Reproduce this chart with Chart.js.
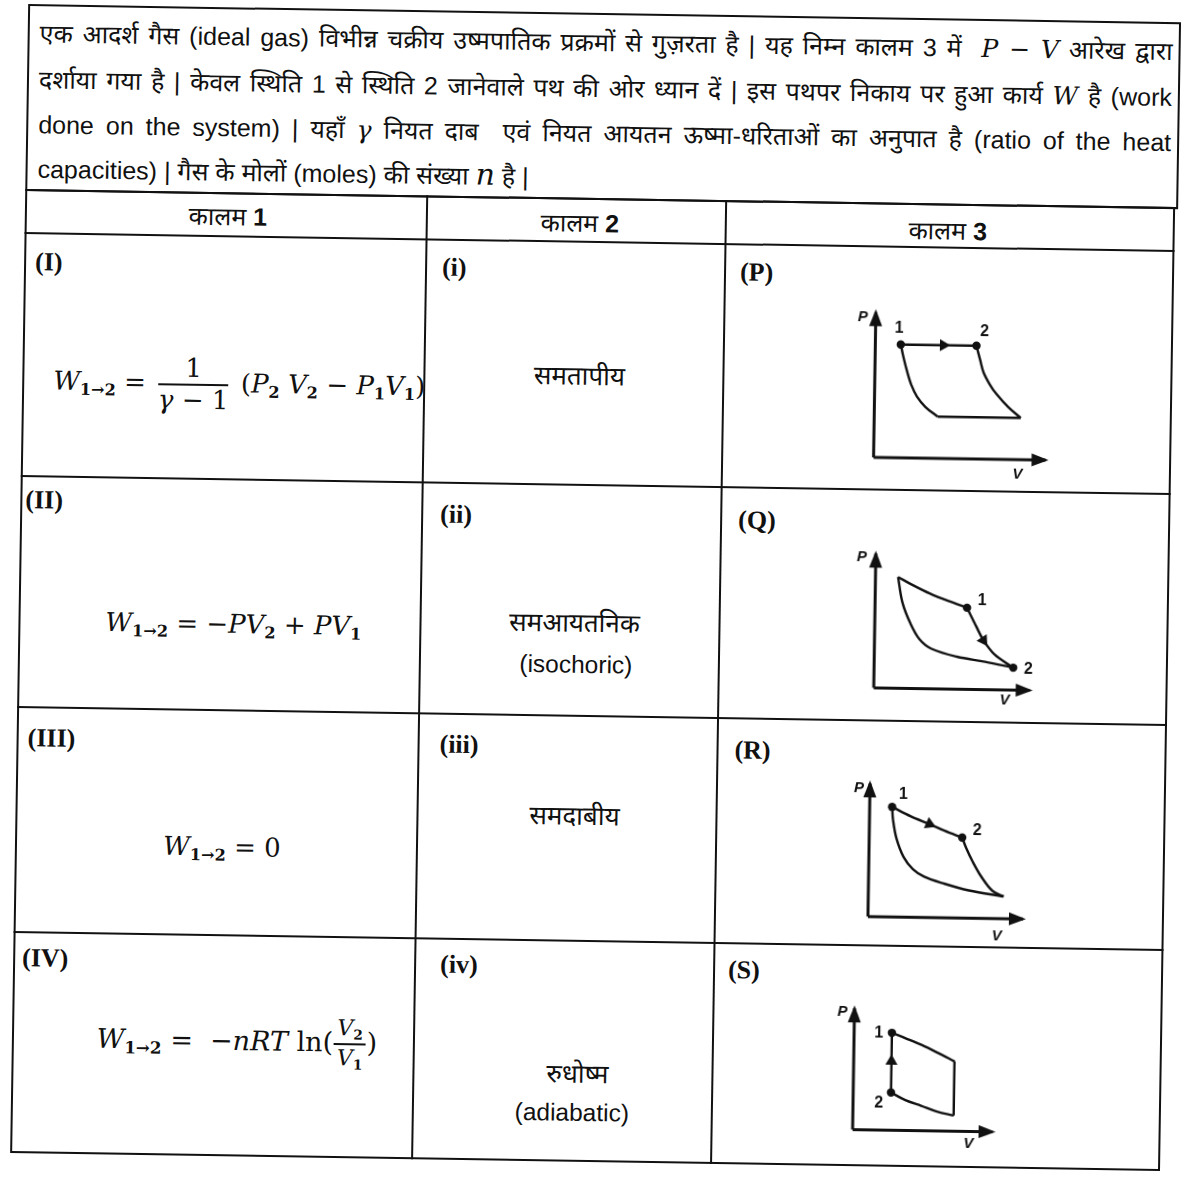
<!DOCTYPE html>
<html>
<head>
<meta charset="utf-8">
<title>P-V आरेख</title>
<script src="https://cdn.jsdelivr.net/npm/chart.js@4.4.1/dist/chart.umd.min.js"></script>
<style>
html, body { margin:0; padding:0; background:#fff; }
#page { position:absolute; left:0; top:0; width:1186px; height:1186px; transform:rotate(0.9deg); transform-origin:593px 593px; color:#111; font-family:"Liberation Sans", Arial, "Noto Sans", sans-serif; }
.box { position:absolute; border:2px solid #111; box-sizing:border-box; }
.h { position:absolute; height:2px; background:#111; }
.v { position:absolute; width:2px; background:#111; }
.t { position:absolute; white-space:nowrap; transform:translate(-50%,-50%); }
.l { position:absolute; white-space:nowrap; transform:translateY(-50%); }
.para div { position:absolute; left:31px; width:1133px; font-size:25px; transform:translateY(-50%); text-align:justify; text-align-last:justify; white-space:nowrap; }
.para div.last { text-align-last:left; }
.m { font-family:"DejaVu Serif", "Liberation Serif", serif; font-style:italic; font-size:25px; }
.rn { font-family:"Liberation Serif", serif; font-size:26px; font-weight:bold; }
.hd { font-size:25px; }
.c2 { font-size:26px; }
.en { font-size:24.5px; }
.f { font-family:"DejaVu Serif", "Liberation Serif", serif; font-size:26px; }
.f i { font-style:italic; }
.f sub { font-size:0.62em; font-weight:bold; font-style:normal; vertical-align:-0.3em; }
.frac { display:inline-block; vertical-align:middle; text-align:center; margin:0 4px; }
.frac > span { display:block; line-height:1.15; }
.frac > span:first-child { border-bottom:2px solid #111; padding:0 3px; }
.frac.sm { font-size:0.82em; margin:0 1px; }
canvas { position:absolute; }
</style>
</head>
<body>
<div id="page">
  <!-- top statement -->
  <div class="box" style="left:19px;top:13px;width:1153px;height:187px;"></div>
  <div class="para">
    <div style="top:41px">एक आदर्श गैस (ideal gas) विभीन्न चक्रीय उष्मपातिक प्रक्रमों से गुज़रता है | यह निम्न कालम 3 में &nbsp;<span class="m">P − V</span> आरेख द्वारा</div>
    <div style="top:87px">दर्शाया गया है | केवल स्थिति 1 से स्थिति 2 जानेवाले पथ की ओर ध्यान दें | इस पथपर निकाय पर हुआ कार्य <span class="m">W</span> है (work</div>
    <div style="top:132px">done on the system) | यहाँ <span class="m">γ</span> नियत दाब &nbsp;एवं नियत आयतन ऊष्मा-धरिताओं का अनुपात है (ratio of the heat</div>
    <div class="last" style="top:176px">capacities) | गैस के मोलों (moles) की संख्या <span class="m" style="font-size:30px">n</span> है |</div>
  </div>

  <!-- table rules -->
  <div class="box" style="left:19px;top:198px;width:1150px;height:964px;"></div>
  <div class="h" style="left:19px;width:1150px;top:241px"></div>
  <div class="h" style="left:19px;width:1150px;top:484px"></div>
  <div class="h" style="left:19px;width:1150px;top:715px"></div>
  <div class="h" style="left:19px;width:1150px;top:940px"></div>
  <div class="v" style="left:420px;top:198px;height:964px"></div>
  <div class="v" style="left:719px;top:198px;height:964px"></div>

  <!-- header -->
  <div class="t hd" style="left:222px;top:221px">कालम <b>1</b></div>
  <div class="t hd" style="left:574px;top:222px">कालम <b>2</b></div>
  <div class="t hd" style="left:942px;top:224px">कालम <b>3</b></div>

  <!-- row labels -->
  <div class="l rn" style="left:30px;top:271px">(I)</div>
  <div class="l rn" style="left:437px;top:270px">(i)</div>
  <div class="l rn" style="left:735px;top:270px">(P)</div>
  <div class="l rn" style="left:24px;top:509px">(II)</div>
  <div class="l rn" style="left:439px;top:517px">(ii)</div>
  <div class="l rn" style="left:737px;top:518px">(Q)</div>
  <div class="l rn" style="left:30px;top:747px">(III)</div>
  <div class="l rn" style="left:442px;top:747px">(iii)</div>
  <div class="l rn" style="left:737px;top:748px">(R)</div>
  <div class="l rn" style="left:28px;top:967px">(IV)</div>
  <div class="l rn" style="left:446px;top:967px">(iv)</div>
  <div class="l rn" style="left:734px;top:968px">(S)</div>

  <!-- column 1 formulas -->
  <div class="t f" style="left:236px;top:391px"><i>W</i><sub>1→2</sub> = <span class="frac"><span>1</span><span><i>γ</i> − 1</span></span> (<i>P</i><sub>2</sub> <i>V</i><sub>2</sub> − <i>P</i><sub>1</sub><i>V</i><sub>1</sub>)</div>
  <div class="t f" style="left:234px;top:631px"><i>W</i><sub>1→2</sub> = −<i>PV</i><sub>2</sub> + <i>PV</i><sub>1</sub></div>
  <div class="t f" style="left:226px;top:854px"><i>W</i><sub>1→2</sub> = 0</div>
  <div class="t f" style="left:244px;top:1048px;font-size:27px"><i>W</i><sub>1→2</sub> = &nbsp;−<i>nRT</i> ln(<span class="frac sm"><span><i>V</i><sub>2</sub></span><span><i>V</i><sub>1</sub></span></span>)</div>

  <!-- column 2 -->
  <div class="t c2" style="left:576px;top:375px">समतापीय</div>
  <div class="t c2" style="left:575px;top:622px">समआयतनिक</div>
  <div class="t en" style="left:577px;top:665px">(isochoric)</div>
  <div class="t c2" style="left:578px;top:815px">समदाबीय</div>
  <div class="t c2" style="left:585px;top:1073px">रुधोष्म</div>
  <div class="t en" style="left:580px;top:1113px">(adiabatic)</div>
</div>

<script>
// --- column 3 P-V diagrams, values as [V, P] in arbitrary units, axes run 0..axisLen ---
const axisLen = 10;

// (P) isobaric 1 -> 2
const pTop    = [[1.48, 7.8], [5.88, 7.8]];
const pRight  = [[5.88, 7.8], [6.10, 6.86], [6.32, 5.96], [6.70, 5.13], [7.09, 4.49], [7.80, 3.59], [8.52, 2.88]];
const pBottom = [[8.52, 2.88], [3.68, 2.88]];
const pLeft   = [[3.68, 2.88], [2.97, 3.53], [2.47, 4.23], [2.14, 5.0], [1.87, 5.96], [1.65, 6.92], [1.48, 7.8]];
const pStates = [[1.48, 7.8], [5.88, 7.8]];
const pArrow  = [3.96, 7.8];

// (Q) 1 -> 2 going down the right side
const qUpper  = [[1.45, 8.28], [2.47, 7.66], [3.49, 7.10], [4.70, 6.55], [5.90, 6.07]];
const qPath   = [[5.90, 6.07], [6.51, 4.69], [6.99, 3.66], [7.71, 2.62], [8.92, 1.66]];
const qLower  = [[8.92, 1.66], [7.11, 2.07], [5.30, 2.41], [3.67, 2.97], [2.89, 3.66], [2.29, 4.83], [1.75, 6.41], [1.45, 8.28]];
const qStates = [[5.90, 6.07], [8.92, 1.66]];
const qArrow  = [6.99, 3.66];

// (R) 1 -> 2 along the upper curve
const rPath   = [[1.45, 8.26], [2.67, 7.57], [3.88, 7.01], [4.85, 6.53], [6.0, 6.04]];
const rRight  = [[6.0, 6.04], [6.28, 5.23], [6.67, 4.31], [7.27, 3.13], [8.0, 2.08], [8.73, 1.67]];
const rLower  = [[8.73, 1.67], [6.48, 2.08], [4.85, 2.57], [3.58, 3.06], [2.85, 3.61], [2.24, 4.51], [1.76, 5.90], [1.52, 7.29], [1.45, 8.26]];
const rStates = [[1.45, 8.26], [6.0, 6.04]];
const rArrow  = [3.88, 7.01];

// (S) vertical (isochoric) leg between 2 and 1
const sPath   = [[2.7, 3.11], [2.7, 8.03]];
const sTop    = [[2.7, 8.03], [3.73, 7.58], [4.87, 7.05], [6.0, 6.44], [7.2, 5.76]];
const sRight  = [[7.2, 5.76], [7.2, 1.29]];
const sBottom = [[7.2, 1.29], [6.0, 1.59], [4.87, 2.05], [3.73, 2.5], [2.7, 3.11]];
const sStates = [[2.7, 8.03], [2.7, 3.11]];
const sArrow  = [2.7, 5.68];

const diagrams = [
    { id: 'pvP', segs: [pTop, pRight, pBottom, pLeft], curved: [false, true, false, true], states: pStates, arrow: pArrow, rot: 90 },
    { id: 'pvQ', segs: [qUpper, qPath, qLower], curved: [true, true, true], states: qStates, arrow: qArrow, rot: 146 },
    { id: 'pvR', segs: [rPath, rRight, rLower], curved: [true, true, true], states: rStates, arrow: rArrow, rot: 113 },
    { id: 'pvS', segs: [sPath, sTop, sRight, sBottom], curved: [false, true, false, true], states: sStates, arrow: sArrow, rot: 0 }
];

// where each diagram sits on the page (origin of the axes, px per unit, label nudges)
const frames = {
    pvP: { ox: 866, oy: 458.6, sx: 18.2, sy: 15.6, pOff: [-13, 5], vOff: [-28, 15], sOff: [[-2, -16], [8, -14]] },
    pvQ: { ox: 870.6, oy: 688.7, sx: 16.6, sy: 14.5, pOff: [-14, 4], vOff: [-25, 10], sOff: [[15, -7], [15, 1]] },
    pvR: { ox: 868.2, oy: 917.8, sx: 16.5, sy: 14.4, pOff: [-11, 5], vOff: [-26, 18], sOff: [[11, -13], [15, -7]] },
    pvS: { ox: 855.5, oy: 1131, sx: 15.0, sy: 13.2, pOff: [-12, 4], vOff: [-24, 12], sOff: [[-13, 1], [-12, 11]] }
};

const INK = '#111';
const decorLabels = {};

// draws axis arrowheads and the P / V / 1 / 2 labels
const pvDecor = {
    id: 'pvDecor',
    afterDatasetsDraw(chart) {
        const ctx = chart.ctx;
        const xs = chart.scales.x, ys = chart.scales.y;
        ctx.save();
        ctx.fillStyle = INK;
        chart.data.datasets.forEach((ds, i) => {
            if (!ds.arrowHead) return;
            const pts = chart.getDatasetMeta(i).data;
            const a = pts[pts.length - 2], b = pts[pts.length - 1];
            const ang = Math.atan2(b.y - a.y, b.x - a.x);
            ctx.save();
            ctx.translate(b.x, b.y);
            ctx.rotate(ang);
            ctx.beginPath();
            ctx.moveTo(3, 0);
            ctx.lineTo(-14, -6.5);
            ctx.lineTo(-14, 6.5);
            ctx.closePath();
            ctx.fill();
            ctx.restore();
        });
        ctx.textAlign = 'center';
        ctx.textBaseline = 'middle';
        (decorLabels[chart.canvas.id] || []).forEach(l => {
            ctx.font = l.font;
            ctx.fillText(l.text, xs.getPixelForValue(l.at[0]) + l.dx, ys.getPixelForValue(l.at[1]) + l.dy);
        });
        ctx.restore();
    }
};

const toPts = arr => arr.map(p => ({ x: p[0], y: p[1] }));

function drawDiagram(d) {
    const f = frames[d.id];
    const W = Math.round(14 * f.sx), H = Math.round(13 * f.sy);
    const cv = document.createElement('canvas');
    cv.id = d.id;
    cv.width = W; cv.height = H;
    cv.style.left = (f.ox - 2 * f.sx) + 'px';
    cv.style.top = (f.oy - 11.5 * f.sy) + 'px';
    document.getElementById('page').appendChild(cv);

    const axisFont = 'italic bold 15px "Liberation Sans", Arial, sans-serif';
    const numFont = 'bold 16px "Liberation Sans", Arial, sans-serif';
    decorLabels[d.id] = [
        { text: 'P', at: [0, axisLen], dx: f.pOff[0], dy: f.pOff[1], font: axisFont },
        { text: 'V', at: [axisLen, 0], dx: f.vOff[0], dy: f.vOff[1], font: axisFont },
        { text: '1', at: d.states[0], dx: f.sOff[0][0], dy: f.sOff[0][1], font: numFont },
        { text: '2', at: d.states[1], dx: f.sOff[1][0], dy: f.sOff[1][1], font: numFont }
    ];

    const datasets = [
        { data: toPts([[0, 0], [0, axisLen]]), arrowHead: true, showLine: true, borderColor: INK, borderWidth: 3, pointRadius: 0 },
        { data: toPts([[0, 0], [axisLen, 0]]), arrowHead: true, showLine: true, borderColor: INK, borderWidth: 3, pointRadius: 0 }
    ];
    d.segs.forEach((s, i) => {
        datasets.push({ data: toPts(s), showLine: true, borderColor: INK, borderWidth: 2.4, pointRadius: 0, tension: d.curved[i] ? 0.35 : 0 });
    });
    datasets.push({ data: toPts(d.states), showLine: false, pointRadius: 4.2, pointBackgroundColor: INK, pointBorderColor: INK, pointBorderWidth: 0 });
    datasets.push({ data: toPts([d.arrow]), showLine: false, pointStyle: 'triangle', rotation: d.rot, pointRadius: 7, pointBackgroundColor: INK, pointBorderColor: INK, pointBorderWidth: 0 });

    new Chart(cv.getContext('2d'), {
        type: 'scatter',
        data: { datasets: datasets },
        options: {
            responsive: false,
            animation: false,
            events: [],
            layout: { padding: 0 },
            plugins: { legend: { display: false }, tooltip: { enabled: false } },
            scales: {
                x: { type: 'linear', display: false, min: -2, max: -2 + W / f.sx },
                y: { type: 'linear', display: false, max: 11.5, min: 11.5 - H / f.sy }
            }
        },
        plugins: [pvDecor]
    });
}

diagrams.forEach(drawDiagram);
</script>
</body>
</html>
